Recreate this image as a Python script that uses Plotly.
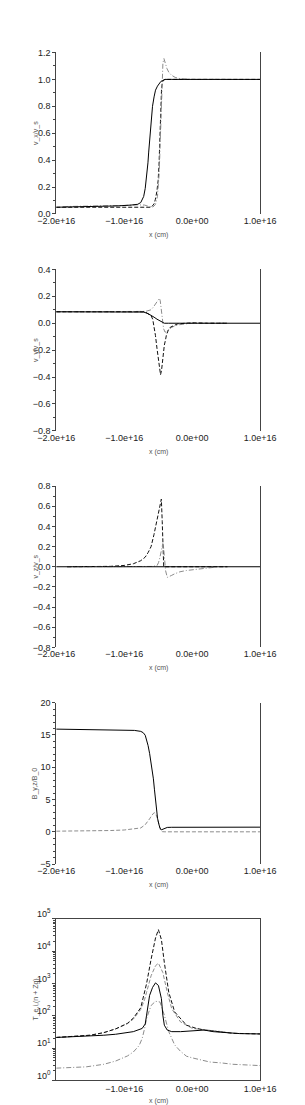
import plotly.graph_objects as go

# ---------------- data (x values in units of 1e15 cm) ----------------
# Panel 1: v_x / v_s
P1_A_X = [-20, -17, -14, -11, -9, -8, -7.56, -7.13, -6.9, -6.69, -6.5, -6.39, -6.13, -5.83, -5.6, -5.39, -5.1, -4.87, -4.6, -4.4, -4.0, -3, 0, 5, 10]
P1_A_Y = [0.050, 0.052, 0.055, 0.060, 0.066, 0.072, 0.085, 0.13, 0.19, 0.27, 0.38, 0.46, 0.64, 0.80, 0.87, 0.92, 0.95, 0.97, 0.985, 0.99, 1.0, 1.0, 1.0, 1.0, 1.0]
P1_B_X = [-20, -15, -10, -8, -7, -6.5, -6.0, -5.6, -5.4, -5.18, -5.0, -4.87, -4.74, -4.61, -4.5, -4.4, -4.3, -4.0, 0, 10]
P1_B_Y = [0.050, 0.050, 0.050, 0.050, 0.048, 0.045, 0.05, 0.075, 0.11, 0.17, 0.25, 0.37, 0.59, 0.81, 0.93, 0.97, 0.99, 1.0, 1.0, 1.0]
P1_C_X = [-19, -16, -13, -10, -8, -7, -6.3, -5.8, -5.4, -5.1, -4.85, -4.7, -4.55, -4.45, -4.3, -4.15, -4.0, -3.7, -3.4, -3.0, -2.5, -1.7, 0, 2.5, 5.2]
P1_C_Y = [0.055, 0.057, 0.060, 0.063, 0.068, 0.066, 0.055, 0.05, 0.07, 0.13, 0.3, 0.55, 0.85, 1.0, 1.12, 1.155, 1.13, 1.08, 1.05, 1.03, 1.015, 1.005, 1.0, 1.0, 1.0]

# Panel 2: v_y / v_s
P2_A_X = [-20, -10, -8, -7.13, -6.5, -6.04, -5.6, -5.17, -4.8, -4.52, -4.3, -4.09, -3.5, 0, 10]
P2_A_Y = [0.085, 0.085, 0.085, 0.083, 0.072, 0.06, 0.045, 0.03, 0.018, 0.01, 0.005, 0.0, 0.0, 0.0, 0.0]
P2_B_X = [-20, -7.8, -6.9, -6.5, -6.04, -5.7, -5.39, -5.1, -4.9, -4.83, -4.7, -4.55, -4.39, -4.2, -4.0, -3.8, -3.5, -3.0, -2.5, -2.0, -1.0, 0, 2.5, 5.2]
P2_B_Y = [0.085, 0.085, 0.088, 0.093, 0.10, 0.12, 0.143, 0.165, 0.18, 0.185, 0.17, 0.11, 0.03, -0.04, -0.065, -0.066, -0.05, -0.03, -0.02, -0.012, -0.005, 0.0, 0.0, 0.0]
P2_C_X = [-20, -7.8, -6.92, -6.5, -6.04, -5.8, -5.61, -5.4, -5.17, -5.0, -4.83, -4.65, -4.5, -4.39, -4.2, -4.09, -3.9, -3.79, -3.5, -3.21, -2.6, -2.13, -1.0, 0.05, 2.5, 5.2]
P2_C_Y = [0.085, 0.085, 0.085, 0.07, 0.056, 0.03, -0.017, -0.09, -0.187, -0.26, -0.334, -0.383, -0.35, -0.285, -0.21, -0.163, -0.12, -0.09, -0.05, -0.03, -0.015, -0.005, 0.0, 0.003, 0.0, 0.0]

# Panel 3: v_z / v_s
P3_A_X = [-20, -10, 0, 10]
P3_A_Y = [0.0, 0.0, 0.0, 0.0]
P3_B_X = [-18.4, -12, -10, -8.64, -7.56, -6.91, -6.48, -6.04, -5.61, -5.18, -4.83, -4.53, -4.4, -4.27, -4.18, 0, 5.2]
P3_B_Y = [0.0, 0.004, 0.013, 0.03, 0.06, 0.095, 0.14, 0.2, 0.32, 0.46, 0.58, 0.67, 0.45, 0.12, 0.0, 0.0, 0.0]
P3_C_X = [-18.4, -10, -6.0, -5.18, -4.95, -4.75, -4.55, -4.4, -4.31, -4.2, -4.05, -3.9, -3.66, -3.4, -3.0, -2.57, -1.8, -0.83, 0.9, 2.0, 3.3]
P3_C_Y = [0.0, 0.0, 0.003, 0.01, 0.04, 0.09, 0.16, 0.21, 0.23, 0.19, 0.08, -0.04, -0.105, -0.1, -0.085, -0.07, -0.05, -0.037, -0.021, -0.012, -0.005]

# Panel 4: B_y,z / B_0
P4_BY_X = [-20, -15, -10, -8.5, -7.56, -7.2, -6.9, -6.7, -6.48, -6.25, -6.04, -5.85, -5.7, -5.55, -5.39, -5.25, -5.09, -4.9, -4.74, -4.53, -4.1, -3.66, -3.0, 0, 10]
P4_BY_Y = [15.9, 15.85, 15.8, 15.7, 15.55, 15.35, 14.95, 14.3, 13.35, 12.1, 10.8, 9.4, 8.2, 6.6, 4.7, 3.4, 2.1, 1.2, 0.6, 0.3, 0.55, 0.68, 0.7, 0.72, 0.72]
P4_BZ_X = [-20, -16, -12, -10, -8.6, -7.56, -6.91, -6.5, -6.26, -6.0, -5.83, -5.65, -5.52, -5.35, -5.18, -5.0, -4.87, -4.65, -4.4, -4.0, 0, 10]
P4_BZ_Y = [0.1, 0.12, 0.2, 0.28, 0.4, 0.6, 1.1, 1.6, 2.0, 2.45, 2.7, 2.9, 2.95, 2.75, 2.3, 1.6, 1.1, 0.3, 0.02, 0.0, 0.0, 0.0]

# Panel 5: temperatures (log scale)
P5_A_X = [-20, -17, -15, -13, -11.2, -9.5, -8.65, -7.56, -7.0, -6.7, -6.04, -5.39, -4.96, -4.52, -4.09, -3.44, -2.57, -1.5, -0.83, 0.5, 1.78, 3.09, 4.39, 6, 10]
P5_A_Y = [21.4, 22.9, 25.1, 30.2, 39.8, 58.9, 85.1, 178, 501, 1000, 5620, 25700, 46800, 22900, 4470, 537, 132, 70.8, 51.3, 41.7, 36.3, 33.9, 31.6, 28.8, 27.5]
P5_B_X = [-20, -17, -15, -13, -11.2, -9.5, -8.65, -7.56, -7.0, -6.7, -6.04, -5.39, -4.96, -4.31, -3.66, -3.0, -1.7, 0.05, 2.5, 3.09, 4.39, 5.2]
P5_B_Y = [21.4, 22.9, 25.1, 30.2, 39.8, 57.5, 79.4, 158, 316, 537, 1740, 3550, 4270, 2190, 537, 166, 64.6, 40.7, 36.3, 36.3, 32.4, 30.2]
P5_C_X = [-20, -16, -13, -11.26, -9.5, -8.65, -7.35, -6.9, -6.7, -6.26, -5.82, -5.39, -4.96, -4.52, -4.31, -4.09, -3.66, -3.0, -1.7, 0, 1.78, 3.09, 4.39, 7, 10]
P5_C_Y = [21.4, 22.9, 25.1, 26.9, 30.2, 32.4, 40.7, 56.2, 105, 427, 759, 1050, 871, 339, 105, 51.3, 36.3, 32.4, 32.4, 33.9, 36.3, 32.4, 30.9, 28.2, 27.5]
P5_D_X = [-20, -15.6, -13, -11.26, -9.5, -8.65, -7.8, -7.35, -7.0, -6.7, -6.04, -5.39, -4.74, -4.09, -3.44, -2.57, -1.7, -0.83, 0, 1.78, 2.6, 4.39, 6, 10]
P5_D_Y = [2.4, 2.63, 3.16, 3.98, 5.75, 7.59, 12.0, 20.0, 39.8, 83.2, 209, 282, 269, 105, 32.4, 12.6, 7.94, 5.62, 5.01, 4.17, 3.72, 3.47, 3.16, 2.88]

X_TICK_VALS = [-2e16, -1e16, 0, 1e16]
X_TICK_TEXT = ["\u22122.0e+16", "\u22121.0e+16", "0.0e+00", "1.0e+16"]
X_MINOR_VALS = [-7.5e15, -5e15, -2.5e15, 0, 2.5e15, 5e15, 7.5e15]
Y_TITLES = ["v_x/v_s", "v_y/v_s", "v_z/v_s", "B_y,z/B_0", "T_e,i,(n + Zg)"]
LOG_TICK_VALS = [1, 10, 100, 1000, 10000, 100000]
LOG_TICK_TEXT = ["10<sup>0</sup>", "10<sup>1</sup>", "10<sup>2</sup>", "10<sup>3</sup>", "10<sup>4</sup>", "10<sup>5</sup>"]

# ---------------- styles ----------------
W, H = 305, 1105
XL, XRt = 33.0, 263.3
TOPS = [33.0, 253.3, 473.3, 693.3, 913.0]
PH = 164.0
FONT = "Liberation Sans, Arial, Helvetica, sans-serif"
AX = "#444"

S_SOLID = dict(color="#000000", width=1)
S_DASH = dict(color="#111111", width=1, dash="4px,2px")
S_GDASH = dict(color="#8c8c8c", width=1, dash="4px,2px")
S_GDD = dict(color="#8c8c8c", width=1, dash="5px,2px,1px,2px")

panels = [
    [(P1_B_X, P1_B_Y, S_DASH), (P1_C_X, P1_C_Y, S_GDD), (P1_A_X, P1_A_Y, S_SOLID)],
    [(P2_B_X, P2_B_Y, S_GDD), (P2_C_X, P2_C_Y, S_DASH), (P2_A_X, P2_A_Y, S_SOLID)],
    [(P3_B_X, P3_B_Y, S_DASH), (P3_C_X, P3_C_Y, S_GDD), (P3_A_X, P3_A_Y, S_SOLID)],
    [(P4_BZ_X, P4_BZ_Y, S_GDASH), (P4_BY_X, P4_BY_Y, S_SOLID)],
    [(P5_D_X, P5_D_Y, S_GDD), (P5_B_X, P5_B_Y, S_GDASH), (P5_A_X, P5_A_Y, S_DASH), (P5_C_X, P5_C_Y, S_SOLID)],
]

fig = go.Figure()
for i, curves in enumerate(panels):
    n = "" if i == 0 else str(i + 1)
    for xs, ys, st in curves:
        fig.add_trace(go.Scatter(x=[v * 1e15 for v in xs], y=ys, mode="lines", line=st,
                                 xaxis="x" + n, yaxis="y" + n, showlegend=False, hoverinfo="skip"))

layout = dict(width=W, height=H, margin=dict(l=0, r=0, t=0, b=0), paper_bgcolor="white",
              plot_bgcolor="white", font=dict(family=FONT, size=9, color="#222"), annotations=[])
xdom = [XL / W, XRt / W]
yranges = [[0, 1.2], [-0.8, 0.4], [-0.8, 0.8], [-5, 20], [0, 5]]
ydticks = [0.2, 0.2, 0.2, 5, None]
yminor = [0.1, 0.1, 0.1, 1, None]
for i in range(5):
    n = "" if i == 0 else str(i + 1)
    top = TOPS[i]
    ydom = [1 - (top + PH) / H, 1 - top / H]
    last = i == 4
    xt = X_TICK_TEXT if not last else [""] + X_TICK_TEXT[1:]
    layout["xaxis" + n] = dict(domain=xdom, anchor="y" + n, range=[-2e16, 1e16], tickmode="array",
                               tickvals=X_TICK_VALS, ticktext=xt, ticks="", showgrid=False, zeroline=False,
                               showline=last, mirror=last, linecolor=AX, linewidth=1,
                               tickfont=dict(size=9, color="#222"))
    # second x axis carrying the small inward tick marks
    layout["xaxis" + str(i + 6)] = dict(domain=xdom, anchor="y" + n, overlaying="x" + n, range=[-2e16, 1e16],
                                        tickmode="array", tickvals=X_MINOR_VALS, ticks="inside", ticklen=3,
                                        tickcolor=AX, showticklabels=False, showgrid=False, zeroline=False,
                                        showline=False, side="bottom")
    if not last:
        layout["yaxis" + n] = dict(domain=ydom, anchor="x" + n, range=yranges[i], tickmode="linear", tick0=0,
                                   dtick=ydticks[i], tickformat=".1f" if i < 3 else "d", ticks="outside",
                                   ticklen=3, tickcolor=AX, showgrid=False, zeroline=False, showline=True,
                                   mirror=True, linecolor=AX, linewidth=1,
                                   minor=dict(dtick=yminor[i], tick0=0, ticks="outside", ticklen=2, tickcolor=AX),
                                   tickfont=dict(size=9, color="#222"))
    else:
        layout["yaxis" + n] = dict(domain=ydom, anchor="x" + n, type="log", range=yranges[i], tickmode="array",
                                   tickvals=LOG_TICK_VALS, ticktext=LOG_TICK_TEXT, ticks="outside", ticklen=3,
                                   tickcolor=AX, showgrid=False, zeroline=False, showline=True, mirror=True,
                                   linecolor=AX, linewidth=1, ticklabelshift=-5,
                                   minor=dict(dtick="D1", ticks="outside", ticklen=2, tickcolor=AX),
                                   tickfont=dict(size=9, color="#222"))
    layout["annotations"].append(dict(text=Y_TITLES[i], xref="paper", yref="paper", x=10 / W,
                                      y=1 - (top + PH / 2) / H, textangle=-90, showarrow=False,
                                      font=dict(size=7, color="#555"), xanchor="center", yanchor="middle"))
    layout["annotations"].append(dict(text="x (cm)", xref="paper", yref="paper", x=149 / W,
                                      y=1 - (top + PH + 21) / H, showarrow=False,
                                      font=dict(size=7, color="#555"), xanchor="center", yanchor="middle"))

fig.update_layout(**layout)
fig.write_html("out.html")
